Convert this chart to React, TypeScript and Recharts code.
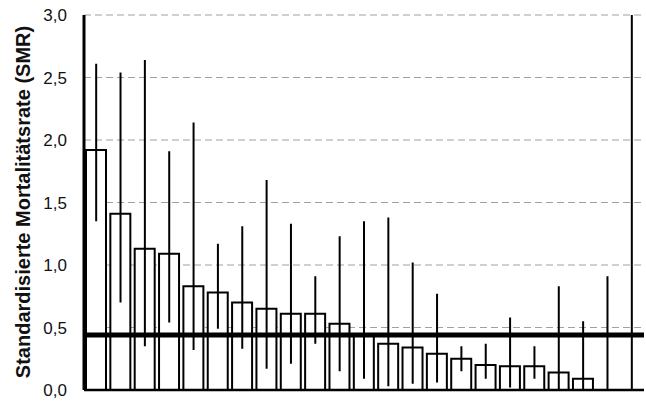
import React from "react";
import {
  ComposedChart,
  Bar,
  Line,
  XAxis,
  YAxis,
  CartesianGrid,
  ErrorBar,
  ReferenceLine,
} from "recharts";

const groups = [
  "1", "2", "3", "4", "5", "6", "7", "8", "9", "10", "11", "12",
  "13", "14", "15", "16", "17", "18", "19", "20", "21", "22", "23",
];
const smr = [
  1.92, 1.41, 1.13, 1.09, 0.83, 0.78, 0.7, 0.65, 0.61, 0.61, 0.53, 0.44,
  0.37, 0.34, 0.29, 0.25, 0.2, 0.19, 0.19, 0.14, 0.09, 0, 0,
];
const ciLow = [
  1.35, 0.7, 0.35, 0.54, 0.32, 0.49, 0.33, 0.17, 0.21, 0.37, 0.15, 0.09,
  0.03, 0.05, 0.06, 0.15, 0.09, 0.02, 0.09, 0, 0, 0, 0,
];
const ciHigh = [
  2.61, 2.54, 2.64, 1.91, 2.14, 1.17, 1.31, 1.68, 1.33, 0.91, 1.23, 1.35,
  1.38, 1.02, 0.77, 0.35, 0.37, 0.58, 0.35, 0.83, 0.55, 0.91, 3.0,
];
const yTicks = [0, 0.5, 1, 1.5, 2, 2.5, 3];
const referenceSmr = 0.44;

const data = groups.map((g, i) => ({
  group: g,
  smr: smr[i],
  ci: [smr[i] - ciLow[i], ciHigh[i] - smr[i]],
}));

const fmt = (v: number) => v.toFixed(1).replace(".", ",");

const font = "'Liberation Sans', Arial, Helvetica, sans-serif";

// rotated axis title, placed by hand left of the tick labels
const YTitle = () => (
  <text
    transform="translate(23,202) rotate(-90)"
    textAnchor="middle"
    dominantBaseline="central"
    fontFamily={font}
    fontWeight="bold"
    fontSize={20}
    fill="#111"
  >
    Standardisierte Mortalitätsrate (SMR)
  </text>
);

export default function App() {
  return (
    <div
      style={{
        position: "absolute",
        left: 0,
        top: 0,
        width: 646,
        height: 401,
        background: "#fff",
      }}
    >
      <ComposedChart
        width={646}
        height={401}
        data={data}
        margin={{ top: 15, right: 2, bottom: 10, left: 0 }}
        barSize={20}
      >
        <CartesianGrid
          vertical={false}
          stroke="#a0a0a0"
          strokeDasharray="7 4"
        />
        <XAxis
          dataKey="group"
          height={1}
          tick={false}
          tickLine={false}
          axisLine={{ stroke: "#000", strokeWidth: 2.5 }}
        />
        <YAxis
          width={84}
          domain={[0, 3]}
          ticks={yTicks}
          tickFormatter={fmt}
          tickLine={false}
          tickSize={15}
          tickMargin={2}
          axisLine={{ stroke: "#000", strokeWidth: 3 }}
          tick={{ fontFamily: font, fontSize: 17, fill: "#111" }}
          label={<YTitle />}
        />
        <Bar
          dataKey="smr"
          fill="#fff"
          stroke="#000"
          strokeWidth={2}
          isAnimationActive={false}
        />
        {/* invisible series carrying the confidence intervals, so zero bars keep theirs */}
        <Line
          dataKey="smr"
          stroke="none"
          dot={false}
          activeDot={false}
          isAnimationActive={false}
        >
          <ErrorBar
            dataKey="ci"
            direction="y"
            width={0}
            stroke="#000"
            strokeWidth={2}
          />
        </Line>
        <ReferenceLine y={referenceSmr} stroke="#000" strokeWidth={5} />
      </ComposedChart>
    </div>
  );
}
